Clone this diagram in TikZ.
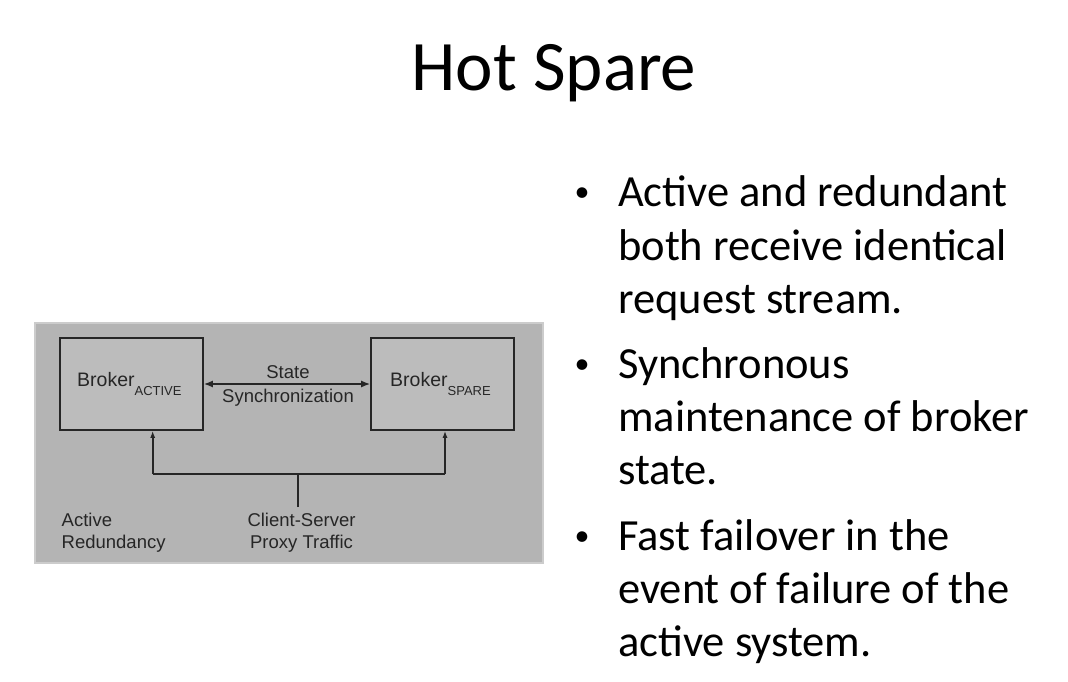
\documentclass[tikz,border=0pt]{standalone}
\usepackage{fontspec}
\setmainfont{Carlito}
\newfontfamily\arialfont{Liberation Sans}
\usepackage{xcolor}
\usetikzlibrary{positioning,arrows.meta}

\definecolor{panelgray}{HTML}{B4B4B4}
\definecolor{panelrim}{HTML}{CCCCCC}
\definecolor{boxgray}{HTML}{BCBCBC}
\definecolor{inkgray}{HTML}{262626}

\begin{document}
\begin{tikzpicture}[x=1pt, y=-1pt]
\tikzset{BoxStyle/.style = {draw=inkgray, fill=boxgray, line width=1.6pt, minimum width=143pt, minimum height=92pt, inner sep=0pt}}
\tikzset{WireStyle/.style = {draw=inkgray, line width=1.6pt}}
\tikzset{TipStyle/.style = {WireStyle, -{Latex[length=7pt, width=5pt]}}}
\tikzset{LabelStyle/.style = {inner sep=0pt, anchor=base, font=\arialfont\fontsize{18.5}{22}\selectfont, text=inkgray}}
\tikzset{BulletStyle/.style = {inner sep=0pt, anchor=base west, align=left, font=\fontsize{44.5}{53.3}\selectfont}}
\tikzset{DotStyle/.style = {inner sep=0pt, anchor=base, font=\fontsize{30}{30}\selectfont}}
  \useasboundingbox[fill=white] (0,0) rectangle (1068,682);
  % title
  \node[inner sep=0pt, anchor=base, font=\fontsize{71}{80}\selectfont] (title) at (554,91) {Hot Spare};

  % diagram panel
  \draw[fill=panelgray, draw=panelrim, line width=2pt] (35,323) rectangle (543,563);
  \node[BoxStyle] (active) at (131.5,384) {};
  \node[BoxStyle] (spare) at (442.5,384) {};
  \node[inner sep=0pt, anchor=base west, font=\arialfont\fontsize{19.5}{23}\selectfont, text=inkgray] (activelbl) at (77,386.7)
      {Broker\raisebox{-8.5pt}{\fontsize{13}{13}\selectfont ACTIVE}};
  \node[inner sep=0pt, anchor=base west, font=\arialfont\fontsize{19.5}{23}\selectfont, text=inkgray] (sparelbl) at (390,386.7)
      {Broker\raisebox{-8.5pt}{\fontsize{13}{13}\selectfont SPARE}};
  \draw[WireStyle, {Latex[length=9pt, width=7pt]}-{Latex[length=9pt, width=7pt]}] (active.east) -- (spare.west);
  \node[LabelStyle] (state) at (288,378) {State};
  \node[LabelStyle] (sync) at (288,402) {Synchronization};

  % proxy traffic feed
  \coordinate (feed) at (298,507);
  \coordinate (split) at (298,474);
  \coordinate (leftcorner) at (152.7,474);
  \coordinate (rightcorner) at (445,474);
  \draw[WireStyle] (feed) -- (split);
  \draw[WireStyle] (leftcorner) -- (rightcorner);
  \draw[TipStyle] (leftcorner) -- (leftcorner |- active.south);
  \draw[TipStyle] (rightcorner) -- (rightcorner |- spare.south);
  \node[LabelStyle, align=left, anchor=base west] (redund) at (61.5,548) {Active\\Redundancy};
  \node[LabelStyle, align=center] (proxy) at (301.5,548) {Client-Server\\Proxy Traffic};

  % bullets
  \node[DotStyle] (dotA) at (582,201.7) {\textbullet};
  \node[BulletStyle] (textA) at (618,313.3) {Active and redundant\\both receive identical\\request stream.};
  \node[DotStyle] (dotB) at (582,373) {\textbullet};
  \node[BulletStyle] (textB) at (618,484.6) {Synchronous\\maintenance of broker\\state.};
  \node[DotStyle] (dotC) at (582,545) {\textbullet};
  \node[BulletStyle] (textC) at (618,656.6) {Fast failover in the\\event of failure of the\\active system.};
\end{tikzpicture}
\end{document}
